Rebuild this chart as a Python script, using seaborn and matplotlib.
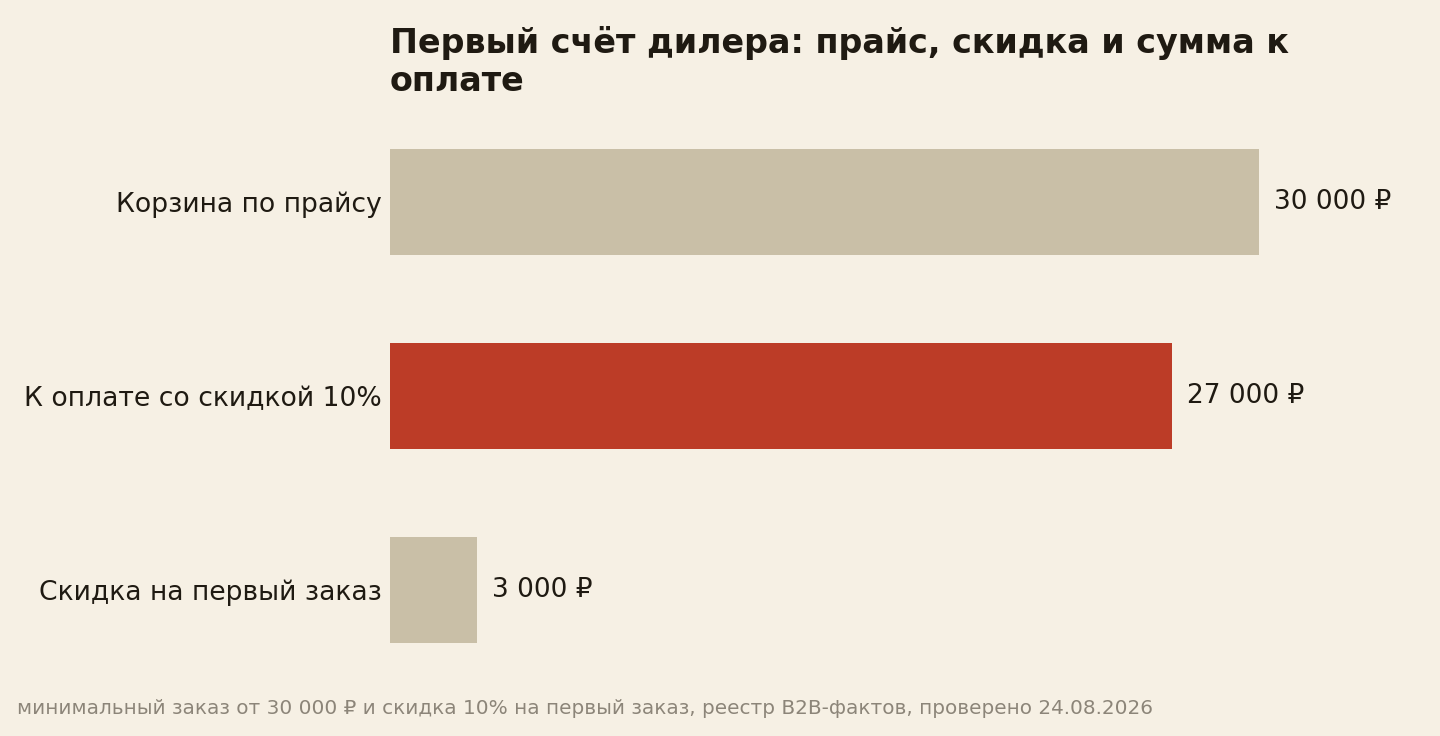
import matplotlib
matplotlib.use("Agg")
import matplotlib.pyplot as plt
import seaborn as sns
import pandas as pd

# данные счёта
categories = ['Корзина по прайсу', 'К оплате со скидкой 10%', 'Скидка на первый заказ']
values = [30000, 27000, 3000]
value_labels = ['30 000 ₽', '27 000 ₽', '3 000 ₽']
bar_colors = ['#C9BFA7', '#BC3C27', '#C9BFA7']

title = 'Первый счёт дилера: прайс, скидка и сумма к\nоплате'
footer = 'минимальный заказ от 30 000 ₽ и скидка 10% на первый заказ, реестр B2B-фактов, проверено 24.08.2026'

bg = '#F6F0E4'
ink = '#1F1A12'

sns.set_style("white")
plt.rcParams['font.family'] = ['DejaVu Sans']

df = pd.DataFrame({'category': categories, 'value': values})

fig = plt.figure(figsize=(14.4, 7.36), dpi=100, facecolor=bg)
ax = fig.add_axes([390 / 1440, 1 - 687 / 736, 1000 / 1440, (687 - 105) / 736])
ax.set_facecolor(bg)

sns.barplot(data=df, x='value', y='category', hue='category', palette=bar_colors,
            width=0.55, legend=False, ax=ax, saturation=1, linewidth=0)

for p, lab in zip(ax.patches, value_labels):
    ax.text(p.get_width() + 530, p.get_y() + p.get_height() / 2, lab,
            ha='left', va='center', fontsize=19, color=ink)

ax.set_xlim(0, 1000 / 869 * 30000)
ax.set_ylim(2.5, -0.5)
ax.set_xlabel('')
ax.set_ylabel('')
ax.set_xticks([])
ax.tick_params(axis='y', length=0, pad=6, labelsize=19.2, labelcolor=ink)
for s in ax.spines.values():
    s.set_visible(False)

ax.set_title(title, loc='left', fontsize=24, fontweight='bold', color=ink, pad=10,
             linespacing=1.2)

fig.text(17 / 1440, 1 - 708 / 736, footer, ha='left', va='center', fontsize=14.4,
         color='#8C8579')

fig.savefig('out.png', dpi=100, facecolor=bg)
